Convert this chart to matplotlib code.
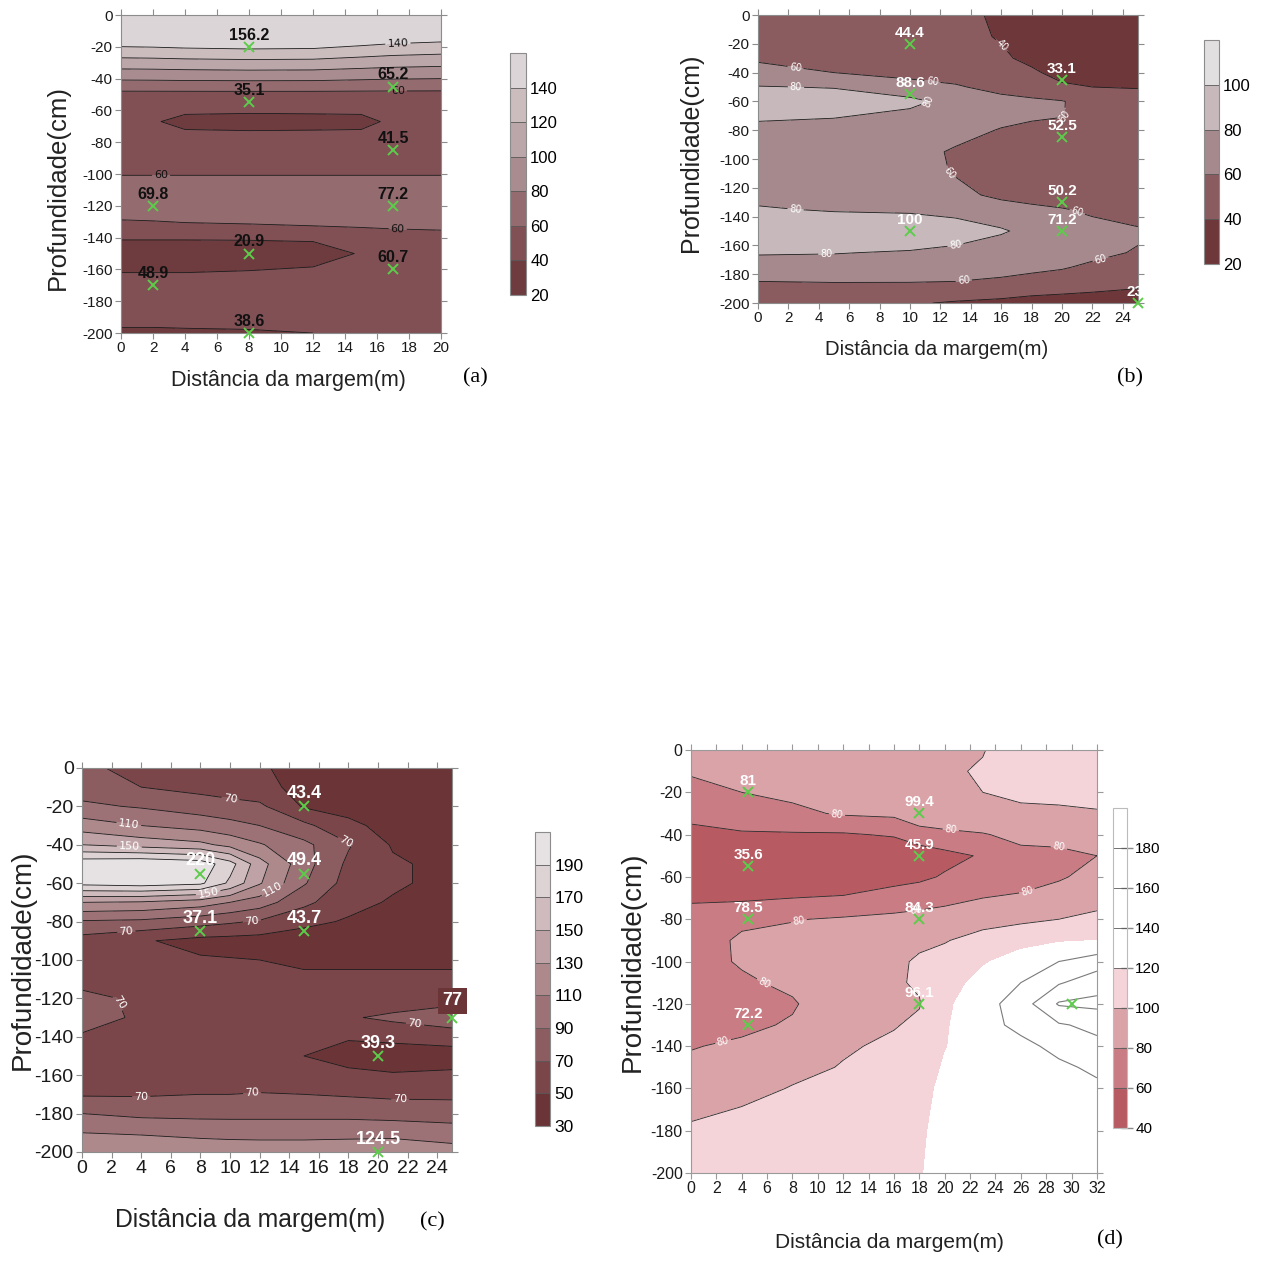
import numpy as np
import matplotlib
matplotlib.use('Agg')
import matplotlib.pyplot as plt
from matplotlib import font_manager

plt.rcParams['axes.unicode_minus'] = False

# Fontes (Arial -> Liberation Sans)
installed = {f.name for f in font_manager.fontManager.ttflist}
SANS = 'Liberation Sans' if 'Liberation Sans' in installed else 'DejaVu Sans'
SERIF = 'Liberation Serif' if 'Liberation Serif' in installed else 'DejaVu Serif'

# ---------------- (a) ----------------
a_x = [0, 2, 4, 8, 12, 15, 17, 20]
a_prof = [0, -15, -50, -58, -67, -77, -90, -96, -108, -115, -124, -136, -140,
          -150, -164, -180, -192, -200]
a_z = [
    [156, 157, 158, 159, 158, 155, 152, 150],
    [154, 155, 157, 159, 158, 152, 148, 145],
    [54, 54, 54, 54, 54, 54, 54, 54],
    [46, 46, 46, 46, 46, 46, 46, 46],
    [48, 42, 34, 32, 33, 34, 44, 48],
    [46, 46, 46, 46, 46, 46, 46, 46],
    [50, 50, 50, 50, 50, 50, 50, 50],
    [56, 56, 56, 56, 56, 56, 56, 56],
    [66, 66, 66, 66, 66, 66, 66, 66],
    [70, 70, 71, 73, 74, 75, 77, 77],
    [64, 65, 66, 68, 70, 72, 74, 76],
    [54, 54, 55, 55, 56, 57, 58, 59],
    [42, 42, 42, 42, 42, 44, 48, 52],
    [28, 28, 28, 30, 34, 41, 48, 55],
    [42, 42, 42, 43, 44, 46, 50, 52],
    [50, 50, 50, 50, 50, 50, 50, 50],
    [45, 45, 45, 45, 46, 47, 48, 48],
    [36, 36, 37, 38, 40, 42, 44, 45],
]
a_niveis = [20, 40, 60, 80, 100, 120, 140, 160]
a_cores = ['#6e3b3e', '#805055', '#946b6f', '#a88c8f', '#bba6a9', '#cbbcbe', '#dcd5d7']
a_px = [8, 17, 8, 17, 2, 17, 8, 17, 2, 8]
a_py = [-20, -45, -55, -85, -120, -120, -150, -160, -170, -200]
a_pv = [156.2, 65.2, 35.1, 41.5, 69.8, 77.2, 20.9, 60.7, 48.9, 38.6]

# ---------------- (b) ----------------
b_x = [0, 5, 10, 13, 16, 18, 20, 22, 25]
b_prof = [0, -15, -30, -40, -50, -60, -70, -80, -95, -110, -125, -135, -150,
          -165, -175, -185, -195, -200]
b_z = [
    [52, 50, 48, 45, 37, 35, 33, 33, 33],
    [55, 52, 47, 44, 39, 35, 32, 32, 32],
    [58, 55, 52, 48, 42, 37, 33, 33, 34],
    [65, 60, 56, 52, 47, 42, 36, 37, 38],
    [81, 79, 65, 62, 54, 48, 42, 40, 39],
    [95, 90, 86, 72, 66, 64, 61, 52, 48],
    [85, 82, 74, 68, 65, 63, 61, 50, 46],
    [72, 70, 68, 66, 59, 55, 52, 48, 45],
    [70, 68, 66, 58, 53, 50, 50, 48, 47],
    [70, 68, 66, 59, 52, 50, 51, 48, 47],
    [74, 70, 68, 65, 56, 53, 51, 49, 46],
    [82, 78, 76, 72, 68, 64, 61, 57, 52],
    [96, 97, 98, 92, 82, 75, 71, 66, 62],
    [82, 81, 78, 74, 70, 68, 66, 63, 59],
    [70, 70, 69, 67, 65, 63, 61, 58, 55],
    [60, 61, 61, 60, 58, 56, 55, 52, 48],
    [48, 47, 45, 43, 42, 40, 38, 36, 32],
    [45, 44, 41, 39, 37, 35, 33, 30, 23],
]
b_niveis = [20, 40, 60, 80, 100, 120]
b_cores = ['#6e373a', '#8a5b5f', '#a6898d', '#c7b9bb', '#e2dfe0']
b_px = [10, 20, 10, 20, 20, 10, 20, 25]
b_py = [-20, -45, -55, -85, -130, -150, -150, -200]
b_pv = [44.4, 33.1, 88.6, 52.5, 50.2, 100, 71.2, 23]

# ---------------- (c) ----------------
c_x = [0, 4, 8, 10, 12, 15, 18, 21, 25]
c_prof = list(range(0, -201, -10))
c_z = [
    [74, 64, 58, 55, 52, 44, 40, 38, 36],
    [80, 70, 64, 60, 56, 44, 40, 38, 36],
    [94, 88, 80, 77, 74, 48, 44, 40, 37],
    [120, 110, 102, 96, 90, 75, 54, 44, 38],
    [150, 142, 135, 124, 112, 95, 72, 48, 40],
    [204, 208, 202, 178, 138, 98, 66, 53, 44],
    [196, 200, 194, 166, 132, 92, 62, 53, 44],
    [130, 128, 120, 110, 100, 75, 56, 48, 42],
    [88, 86, 78, 73, 68, 55, 48, 42, 40],
    [62, 52, 44, 43, 42, 40, 40, 38, 40],
    [58, 54, 52, 51, 50, 48, 48, 48, 46],
    [62, 58, 56, 55, 54, 52, 52, 52, 54],
    [76, 66, 58, 57, 56, 54, 54, 58, 62],
    [78, 67, 58, 57, 56, 56, 68, 74, 82],
    [68, 58, 56, 56, 56, 54, 52, 56, 60],
    [58, 56, 55, 55, 55, 50, 42, 38, 40],
    [62, 60, 60, 60, 60, 58, 55, 52, 54],
    [68, 68, 70, 70, 71, 70, 68, 66, 66],
    [90, 85, 84, 84, 84, 84, 84, 82, 80],
    [110, 108, 105, 104, 104, 104, 104, 104, 100],
    [125, 125, 122, 121, 120, 120, 122, 124, 118],
]
c_niveis = [30, 50, 70, 90, 110, 130, 150, 170, 190, 210]
c_cores = ['#6b3538', '#7a464a', '#8b5c60', '#9c7276', '#ae898c', '#bfa2a5',
           '#cfbbbd', '#ddd2d4', '#e6e2e4']
c_px = [15, 8, 15, 8, 15, 25, 20, 20]
c_py = [-20, -55, -55, -85, -85, -130, -150, -200]
c_pv = [43.4, 220, 49.4, 37.1, 43.7, 77, 39.3, 124.5]

# ---------------- (d) ----------------
d_x = [0, 4, 8, 12, 16, 18, 20, 23, 26, 29, 32]
d_prof = list(range(0, -201, -10))
d_z = [
    [88, 86, 88, 90, 92, 96, 96, 99, 112, 114, 116],
    [82, 84, 86, 88, 90, 97, 97, 102, 110, 112, 114],
    [74, 80, 84, 86, 88, 96, 98, 100, 104, 106, 108],
    [64, 70, 76, 82, 84, 92, 92, 92, 96, 96, 98],
    [56, 58, 58, 58, 62, 72, 76, 79, 84, 86, 88],
    [48, 47, 46, 44, 44, 48, 54, 62, 76, 76, 80],
    [46, 45, 45, 46, 52, 56, 62, 70, 74, 78, 86],
    [58, 57, 60, 62, 70, 72, 75, 80, 82, 88, 94],
    [66, 76, 79, 82, 84, 86, 88, 94, 96, 100, 104],
    [70, 83, 86, 88, 92, 97, 99, 106, 114, 118, 120],
    [72, 82, 88, 90, 97, 102, 106, 118, 128, 140, 150],
    [72, 77, 84, 92, 98, 102, 112, 126, 140, 158, 172],
    [74, 72, 78, 94, 96, 99, 116, 132, 150, 182, 185],
    [76, 76, 82, 96, 99, 103, 118, 132, 146, 158, 165],
    [79, 83, 88, 98, 103, 106, 119, 131, 134, 146, 155],
    [84, 88, 95, 101, 106, 109, 122, 130, 130, 136, 144],
    [90, 94, 101, 105, 108, 111, 126, 130, 128, 130, 136],
    [96, 101, 106, 108, 111, 113, 128, 131, 127, 128, 132],
    [103, 106, 109, 111, 113, 115, 130, 132, 127, 127, 130],
    [106, 109, 111, 113, 115, 116, 132, 133, 127, 127, 128],
    [108, 111, 113, 115, 116, 117, 134, 134, 127, 127, 128],
]
d_niveis = [40, 60, 80, 100, 120, 140, 160, 180, 200]
d_cores = ['#b85a62', '#c97c83', '#d9a3a8', '#f4d3d9',
           '#ffffff', '#ffffff', '#ffffff', '#ffffff']
d_px = [4.5, 18, 4.5, 18, 4.5, 18, 18, 4.5]
d_py = [-20, -30, -55, -50, -80, -80, -120, -130]
d_pv = [81, 99.4, 35.6, 45.9, 78.5, 84.3, 96.1, 72.2]
d_pico = (30, -120)

VERDE = '#5ccc4a'
CINZA = '#8c8c8c'
TEXTO = '#222222'


def eixos(ax, xmax, tam, cor=CINZA):
    ax.set_xlim(0, xmax)
    ax.set_ylim(-200, 0)
    ax.set_xticks(np.arange(0, xmax + 0.1, 2))
    ax.set_yticks(np.arange(-200, 1, 20))
    ax.tick_params(direction='out', length=4, width=0.8, color=cor,
                   top=True, right=True, labelsize=tam, pad=2,
                   labelfontfamily=SANS, labelcolor='#1a1a1a')
    for s in ax.spines.values():
        s.set_color(cor)
        s.set_linewidth(0.8)


def pontos(ax, px, py, pv, xmax, cor, tam, caixa=None):
    ax.plot(px, py, 'x', color=VERDE, ms=7, mew=1.4, clip_on=False, zorder=5)
    for x, y, v in zip(px, py, pv):
        kw = dict(ha='center', xytext=(0, 3))
        if x >= xmax and caixa is None:
            kw = dict(ha='right', xytext=(4, 3))
        elif x >= xmax:
            kw['bbox'] = dict(boxstyle='square,pad=0.25', fc=caixa, ec='none')
            kw['xytext'] = (0, 6)
        ax.annotate(f'{v:g}', (x, y), textcoords='offset points', va='bottom',
                    color=cor, fontsize=tam, fontweight='bold', family=SANS,
                    zorder=6, annotation_clip=False, **kw)


def barra(fig, cf, cax, ticks, tam, borda=CINZA, marcas=False):
    cb = fig.colorbar(cf, cax=cax, ticks=ticks, drawedges=True)
    cb.dividers.set_color('#5a5a5a')
    cb.dividers.set_linewidth(0.6)
    cb.outline.set_edgecolor(borda)
    cb.outline.set_linewidth(0.8)
    if marcas:
        cb.ax.tick_params(direction='inout', length=8, width=1.0, color='#8a8a8a',
                          labelsize=tam, pad=2, labelfontfamily=SANS)
    else:
        cb.ax.tick_params(length=0, labelsize=tam, pad=3, labelfontfamily=SANS)
    return cb


fig = plt.figure(figsize=(12.69, 12.62), dpi=100)

# ---------- painel (a) ----------
ax = fig.add_axes([0.0954, 0.7361, 0.2522, 0.2520])
cax = fig.add_axes([0.4019, 0.7662, 0.0126, 0.1918])
X, Y = np.meshgrid(a_x, a_prof)
cf = ax.contourf(X, Y, np.array(a_z, float), levels=a_niveis, colors=a_cores)
cs = ax.contour(X, Y, np.array(a_z, float), levels=a_niveis[1:-1], colors='#1a1a1a',
                linewidths=0.6)
ax.clabel(cs, fmt='%d', fontsize=8, colors='#111111', inline=True, inline_spacing=2,
          manual=[(17.3, -18), (17.3, -48), (2.5, -101), (17.3, -131)])
eixos(ax, 20, 11)
pontos(ax, a_px, a_py, a_pv, 20, '#111111', 11.5)
ax.set_ylabel('Profundidade(cm)', fontsize=18.5, family=SANS, color=TEXTO)
ax.yaxis.set_label_coords(-0.16, 0.457)
ax.set_xlabel('Distância da margem(m)', fontsize=15.5, family=SANS, color=TEXTO)
ax.xaxis.set_label_coords(0.522, -0.115)
barra(fig, cf, cax, a_niveis[:-1], 12)
fig.text(0.375, 0.7005, '(a)', fontsize=16, family=SERIF, ha='center', va='center')

# ---------- painel (b) ----------
ax = fig.add_axes([0.5973, 0.7599, 0.2994, 0.2282])
cax = fig.add_axes([0.9488, 0.7908, 0.0118, 0.1775])
X, Y = np.meshgrid(b_x, b_prof)
cf = ax.contourf(X, Y, np.array(b_z, float), levels=b_niveis, colors=b_cores)
cs = ax.contour(X, Y, np.array(b_z, float), levels=b_niveis[1:-1], colors='#1a1a1a',
                linewidths=0.6)
ax.clabel(cs, fmt='%d', fontsize=7, colors='white', inline=True, inline_spacing=2,
          manual=[(2.5, -34), (2.5, -50), (11.5, -44), (11.3, -62), (15.6, -25),
                  (20.3, -72), (12.2, -115), (2.5, -132), (13, -160), (4.5, -166),
                  (13.5, -180), (22.5, -168), (21, -137)])
eixos(ax, 25, 11)
pontos(ax, b_px, b_py, b_pv, 25, 'white', 11)
ax.set_ylabel('Profundidade(cm)', fontsize=18, family=SANS, color=TEXTO)
ax.yaxis.set_label_coords(-0.145, 0.52)
ax.set_xlabel('Distância da margem(m)', fontsize=14.7, family=SANS, color=TEXTO)
ax.xaxis.set_label_coords(0.471, -0.13)
barra(fig, cf, cax, b_niveis[:-1], 12)
fig.text(0.8905, 0.7005, '(b)', fontsize=16, family=SERIF, ha='center', va='center')

# ---------- painel (c) ----------
ax = fig.add_axes([0.0646, 0.0872, 0.2916, 0.3043])
cax = fig.add_axes([0.4216, 0.1078, 0.0118, 0.2330])
X, Y = np.meshgrid(c_x, c_prof)
cf = ax.contourf(X, Y, np.array(c_z, float), levels=c_niveis, colors=c_cores)
cs = ax.contour(X, Y, np.array(c_z, float), levels=c_niveis[1:-1], colors='#1a1a1a',
                linewidths=0.6)
ax.clabel(cs, fmt='%d', fontsize=8, colors='white', inline=True, inline_spacing=2,
          manual=[(10, -18), (3.2, -27), (3.2, -40), (18, -36), (8.5, -64),
                  (12.8, -62), (11.5, -80), (3, -86), (2.5, -122), (22.5, -133),
                  (4, -171), (11.5, -170), (21.5, -173)])
eixos(ax, 25, 14)
pontos(ax, c_px, c_py, c_pv, 25, 'white', 13, caixa='#6b3538')
ax.set_ylabel('Profundidade(cm)', fontsize=20, family=SANS, color=TEXTO)
ax.yaxis.set_label_coords(-0.124, 0.5)
ax.set_xlabel('Distância da margem(m)', fontsize=17.8, family=SANS, color=TEXTO)
ax.xaxis.set_label_coords(0.454, -0.145)
barra(fig, cf, cax, c_niveis[:-1], 12.5)
fig.text(0.3404, 0.0317, '(c)', fontsize=16, family=SERIF, ha='center', va='center')

# ---------- painel (d) ----------
ax = fig.add_axes([0.5445, 0.0705, 0.3199, 0.3352])
cax = fig.add_axes([0.8771, 0.1062, 0.0110, 0.2536])
X, Y = np.meshgrid(d_x, d_prof)
cf = ax.contourf(X, Y, np.array(d_z, float), levels=d_niveis, colors=d_cores)
cs = ax.contour(X, Y, np.array(d_z, float), levels=[60, 80, 100], colors='#2a2a2a',
                linewidths=0.6)
ax.contour(X, Y, np.array(d_z, float), levels=[140, 160, 180], colors='#7a7a7a',
           linewidths=0.8)
ax.clabel(cs, fmt='%d', fontsize=7, colors='white', inline=True, inline_spacing=2,
          manual=[(11.5, -31), (20.5, -37), (29, -46), (26.5, -67), (8.5, -81),
                  (6, -107), (2.5, -137), (17.8, -77)])
eixos(ax, 32, 11.5, cor='#9a9a9a')
pontos(ax, d_px, d_py, d_pv, 32, 'white', 11)
ax.plot([d_pico[0]], [d_pico[1]], 'x', color=VERDE, ms=7, mew=1.4, zorder=5)
ax.set_ylabel('Profundidade(cm)', fontsize=20, family=SANS, color=TEXTO)
ax.yaxis.set_label_coords(-0.112, 0.5)
ax.set_xlabel('Distância da margem(m)', fontsize=15, family=SANS, color=TEXTO)
ax.xaxis.set_label_coords(0.49, -0.142)
barra(fig, cf, cax, d_niveis[:-1], 11, borda='#bbbbbb', marcas=True)
fig.text(0.8747, 0.0174, '(d)', fontsize=16, family=SERIF, ha='center', va='center')

fig.savefig('out.png', dpi=100)
